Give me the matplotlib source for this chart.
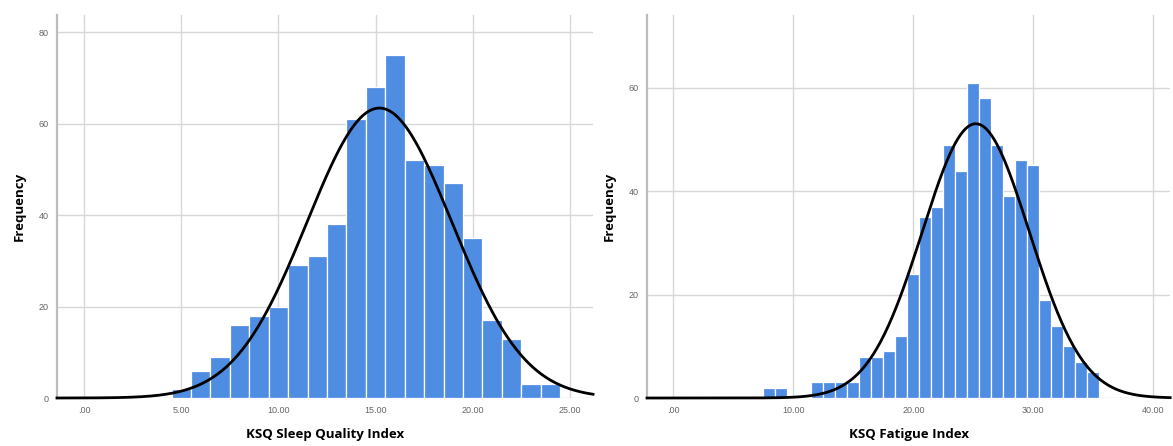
import matplotlib
matplotlib.use("Agg")
import matplotlib.pyplot as plt
import numpy as np

# Histogram data (bin width 1, bins centred on integers)
sleep_centers = [5, 6, 7, 8, 9, 10, 11, 12, 13, 14, 15, 16, 17, 18, 19, 20, 21, 22, 23, 24]
sleep_counts = [2, 6, 9, 16, 18, 20, 29, 31, 38, 61, 68, 75, 52, 51, 47, 35, 17, 13, 3, 3]
sleep_mean, sleep_sd, sleep_n = 15.2, 3.73, 593

fatigue_centers = [8, 9, 10, 11, 12, 13, 14, 15, 16, 17, 18, 19, 20, 21, 22, 23, 24, 25,
                   26, 27, 28, 29, 30, 31, 32, 33, 34, 35]
fatigue_counts = [2, 2, 0, 0, 3, 3, 3, 3, 8, 8, 9, 12, 24, 35, 37, 49, 44, 61,
                  58, 49, 39, 46, 45, 19, 14, 10, 7, 5]
fatigue_mean, fatigue_sd, fatigue_n = 25.2, 4.46, 593

sleep_xticks = [0, 5, 10, 15, 20, 25]
sleep_xlabels = [".00", "5.00", "10.00", "15.00", "20.00", "25.00"]
sleep_yticks = [0, 20, 40, 60, 80]
fatigue_xticks = [0, 10, 20, 30, 40]
fatigue_xlabels = [".00", "10.00", "20.00", "30.00", "40.00"]
fatigue_yticks = [0, 20, 40, 60]

BAR = "#4f8de2"
GRID = "#d8d8d8"
TICK = "#666666"


def draw_panel(ax, centers, counts, mean, sd, n, xlim, ylim, xticks, xlabels, yticks, xlabel):
    ax.set_xlim(*xlim)
    ax.set_ylim(*ylim)
    ax.set_xticks(xticks)
    ax.set_xticklabels(xlabels)
    ax.set_yticks(yticks)
    ax.grid(True, color=GRID, linewidth=1.0, zorder=0)
    ax.set_axisbelow(True)
    ax.bar(centers, counts, width=1.0, color=BAR, edgecolor="white", linewidth=0.9, zorder=2)
    xs = np.linspace(xlim[0], xlim[1], 400)
    ys = n * np.exp(-0.5 * ((xs - mean) / sd) ** 2) / (sd * np.sqrt(2 * np.pi))
    ax.plot(xs, ys, color="black", linewidth=2.0, zorder=3, clip_on=False)
    for side in ("top", "right", "bottom"):
        ax.spines[side].set_visible(False)
    ax.spines["left"].set_color("#bdbdbd")
    ax.spines["left"].set_linewidth(1.6)
    ax.tick_params(length=0, labelsize=6.5, labelcolor=TICK, pad=6)
    ax.set_xlabel(xlabel, fontsize=9.5, fontweight="bold", labelpad=9, family="Open Sans")
    ax.set_ylabel("Frequency", fontsize=9.5, fontweight="bold", labelpad=9, family="Open Sans")


plt.rcParams["font.family"] = ["Liberation Sans", "DejaVu Sans"]
fig = plt.figure(figsize=(11.73, 4.46), dpi=100)
ax1 = fig.add_axes([0.0486, 0.1076, 0.457, 0.859])
ax2 = fig.add_axes([0.5516, 0.1076, 0.446, 0.859])

draw_panel(ax1, sleep_centers, sleep_counts, sleep_mean, sleep_sd, sleep_n,
           (-1.4, 26.2), (0, 83.8), sleep_xticks, sleep_xlabels, sleep_yticks,
           "KSQ Sleep Quality Index")
draw_panel(ax2, fatigue_centers, fatigue_counts, fatigue_mean, fatigue_sd, fatigue_n,
           (-2.2, 41.4), (0, 74.1), fatigue_xticks, fatigue_xlabels, fatigue_yticks,
           "KSQ Fatigue Index")

fig.savefig("out.png", dpi=100)
